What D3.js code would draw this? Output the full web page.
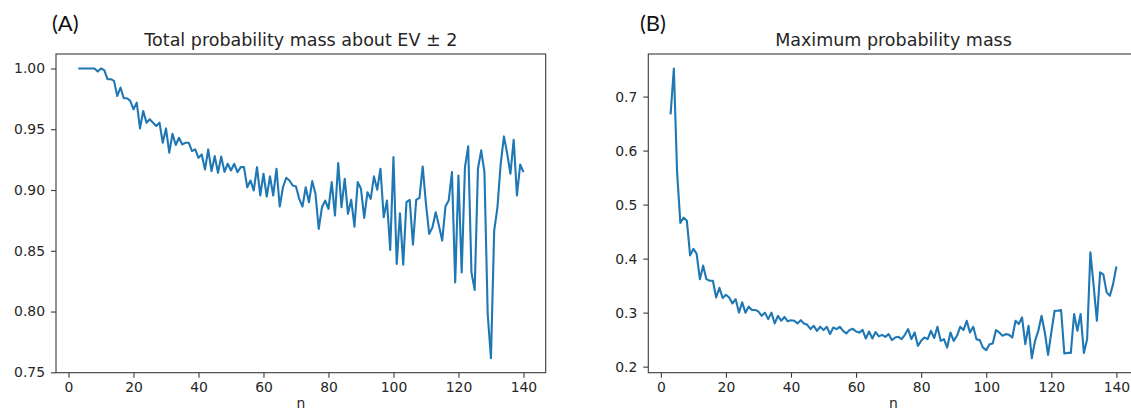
<!DOCTYPE html>
<html>
<head>
<meta charset="utf-8">
<script src="https://cdn.jsdelivr.net/npm/d3@7"></script>
<style>
  html, body { margin: 0; padding: 0; background: #fff; overflow: hidden; }
  svg { display: block; }
</style>
</head>
<body>
<svg id="chart" width="1131" height="414"></svg>
<script>
// ---------- data ----------
const nValues = d3.range(3, 141); // n = 3 .. 140

const totalMass = [
  1.000, 1.000, 1.000, 1.000, 1.000, 1.000, 0.9975, 1.000, 0.9986, 0.9912,   // 3-12
  0.9912, 0.9898, 0.9774, 0.9843, 0.9755, 0.9755, 0.9733, 0.9664, 0.9719, 0.9507, // 13-22
  0.9650, 0.9554, 0.9582, 0.9554, 0.9527, 0.9554, 0.9389, 0.9507, 0.9307, 0.9463, // 23-32
  0.9370, 0.9430, 0.9375, 0.9389, 0.9389, 0.9320, 0.9334, 0.9265, 0.9293, 0.9169, // 33-42
  0.9334, 0.9155, 0.9279, 0.9142, 0.9275, 0.9150, 0.9216, 0.9161, 0.9216, 0.9147, // 43-52
  0.9188, 0.9188, 0.9023, 0.9078, 0.8996, 0.9188, 0.8955, 0.9134, 0.8946, 0.9112, // 53-62
  0.8955, 0.9175, 0.8864, 0.9023, 0.9101, 0.9078, 0.9037, 0.9029, 0.8927, 0.8864, // 63-72
  0.9023, 0.8900, 0.9073, 0.8969, 0.8680, 0.8858, 0.8913, 0.8845, 0.9065, 0.8790, // 73-82
  0.9221, 0.8858, 0.9093, 0.8804, 0.8919, 0.8699, 0.9065, 0.9010, 0.8771, 0.8982, // 83-92
  0.8927, 0.9112, 0.9002, 0.9175, 0.8776, 0.8913, 0.8507, 0.9271, 0.8391, 0.8809, // 93-102
  0.8386, 0.8900, 0.8919, 0.8550, 0.8919, 0.8936, 0.9194, 0.8886, 0.8639, 0.8693, // 103-112
  0.8817, 0.8707, 0.8584, 0.8864, 0.8913, 0.9147, 0.8240, 0.9120, 0.8322, 0.9188, // 113-122
  0.9359, 0.8322, 0.8177, 0.9175, 0.9326, 0.9147, 0.7979, 0.7616, 0.8666, 0.8858, // 123-132
  0.9216, 0.9441, 0.9299, 0.9134, 0.9414, 0.8955, 0.9210, 0.9147                  // 133-140
];

const maxMass = [
  0.667, 0.752, 0.560, 0.466, 0.476, 0.470, 0.406, 0.418, 0.409, 0.362,           // 3-12
  0.387, 0.362, 0.359, 0.359, 0.328, 0.346, 0.327, 0.333, 0.328, 0.317,           // 13-22
  0.325, 0.300, 0.319, 0.300, 0.311, 0.305, 0.305, 0.302, 0.294, 0.300,           // 23-32
  0.288, 0.300, 0.280, 0.294, 0.285, 0.292, 0.284, 0.286, 0.285, 0.280,           // 33-42
  0.286, 0.280, 0.2775, 0.2695, 0.2756, 0.2663, 0.2738, 0.2676, 0.2738, 0.2602,   // 43-52
  0.2725, 0.2695, 0.2738, 0.2663, 0.2614, 0.2680, 0.2700, 0.2650, 0.2630, 0.2680, // 53-62
  0.2520, 0.2650, 0.2520, 0.2640, 0.2560, 0.2589, 0.2552, 0.2602, 0.2491, 0.2539, // 63-72
  0.2552, 0.2509, 0.2589, 0.2695, 0.2509, 0.2632, 0.2385, 0.2478, 0.2539, 0.2509, // 73-82
  0.2664, 0.2528, 0.2738, 0.2478, 0.2509, 0.2353, 0.2632, 0.2478, 0.2571, 0.2738, // 83-92
  0.2677, 0.2849, 0.2632, 0.2738, 0.2509, 0.2491, 0.2353, 0.2305, 0.2416, 0.2428, // 93-102
  0.2677, 0.2632, 0.2571, 0.2602, 0.2589, 0.2539, 0.2849, 0.2788, 0.2911, 0.2416, // 103-112
  0.2757, 0.2156, 0.2478, 0.2664, 0.2942, 0.2632, 0.2217, 0.2632, 0.3035, 0.3035, // 113-122
  0.3048, 0.2242, 0.2254, 0.2254, 0.2974, 0.2664, 0.2974, 0.2254, 0.2509, 0.4119, // 123-132
  0.3500, 0.2849, 0.3747, 0.3704, 0.3375, 0.3314, 0.3532, 0.3853                  // 133-140
];

const xTicks = [0, 20, 40, 60, 80, 100, 120, 140];
const yTicksA = [0.75, 0.80, 0.85, 0.90, 0.95, 1.00];
const yTicksB = [0.2, 0.3, 0.4, 0.5, 0.6, 0.7];

const panelLabels = ["(A)", "(B)"];
const titles = ["Total probability mass about EV \u00b1 2", "Maximum probability mass"];
const xLabel = "n";

// ---------- drawing ----------
const svg = d3.select("#chart");
const lineColor = "#1f77b4";
const textColor = "#262626";
const spineColor = "#3a3a3a";
const tickFont = "13.9px 'DejaVu Sans', sans-serif";

function padExtent(ext, frac) {
  const d = (ext[1] - ext[0]) * frac;
  return [ext[0] - d, ext[1] + d];
}

function drawPanel(opts) {
  const { left, top, width, height, values, yTicks, yFmt, title, label, labelX } = opts;
  const g = svg.append("g").attr("transform", `translate(${left},${top})`);

  const x = d3.scaleLinear()
    .domain(padExtent(d3.extent(nValues), 0.05))
    .range([0, width]);
  const y = d3.scaleLinear()
    .domain(padExtent(d3.extent(values), 0.05))
    .range([height, 0]);

  const line = d3.line()
    .x((d, i) => x(nValues[i]))
    .y(d => y(d));
  g.append("path")
    .datum(values)
    .attr("fill", "none")
    .attr("stroke", lineColor)
    .attr("stroke-width", 2.1)
    .attr("stroke-linejoin", "round")
    .attr("d", line);

  const xAxis = d3.axisBottom(x).tickValues(xTicks).tickFormat(d3.format("d"))
    .tickSizeInner(5).tickSizeOuter(0).tickPadding(4.5);
  const yAxis = d3.axisLeft(y).tickValues(yTicks).tickFormat(d3.format(yFmt))
    .tickSizeInner(5).tickSizeOuter(0).tickPadding(6);

  const gx = g.append("g").attr("transform", `translate(0,${height})`).call(xAxis);
  const gy = g.append("g").call(yAxis);
  [gx, gy].forEach(a => {
    a.select(".domain").remove();
    a.selectAll(".tick line").attr("stroke", spineColor).attr("stroke-width", 1.1);
    a.selectAll(".tick text")
      .attr("fill", textColor)
      .style("font", tickFont);
  });

  g.append("rect")
    .attr("x", 0).attr("y", 0)
    .attr("width", width).attr("height", height)
    .attr("fill", "none")
    .attr("stroke", spineColor)
    .attr("stroke-width", 1.1);

  g.append("text")
    .attr("x", width / 2).attr("y", -8.3)
    .attr("text-anchor", "middle")
    .attr("fill", textColor)
    .style("font", "17.5px 'DejaVu Sans', sans-serif")
    .text(title);

  g.append("text")
    .attr("x", width / 2).attr("y", height + 35.5)
    .attr("text-anchor", "middle")
    .attr("fill", textColor)
    .style("font", tickFont)
    .text(xLabel);

  svg.append("text")
    .attr("x", labelX).attr("y", 31)
    .attr("fill", "#111")
    .style("font", "22px Lato, 'Open Sans', sans-serif")
    .text(label);
}

drawPanel({
  left: 56, top: 54, width: 489.7, height: 318.7,
  values: totalMass, yTicks: yTicksA, yFmt: ".2f",
  title: titles[0], label: panelLabels[0], labelX: 52
});
drawPanel({
  left: 648.3, top: 54, width: 490.4, height: 318.7,
  values: maxMass, yTicks: yTicksB, yFmt: ".1f",
  title: titles[1], label: panelLabels[1], labelX: 640
});
</script>
</body>
</html>
